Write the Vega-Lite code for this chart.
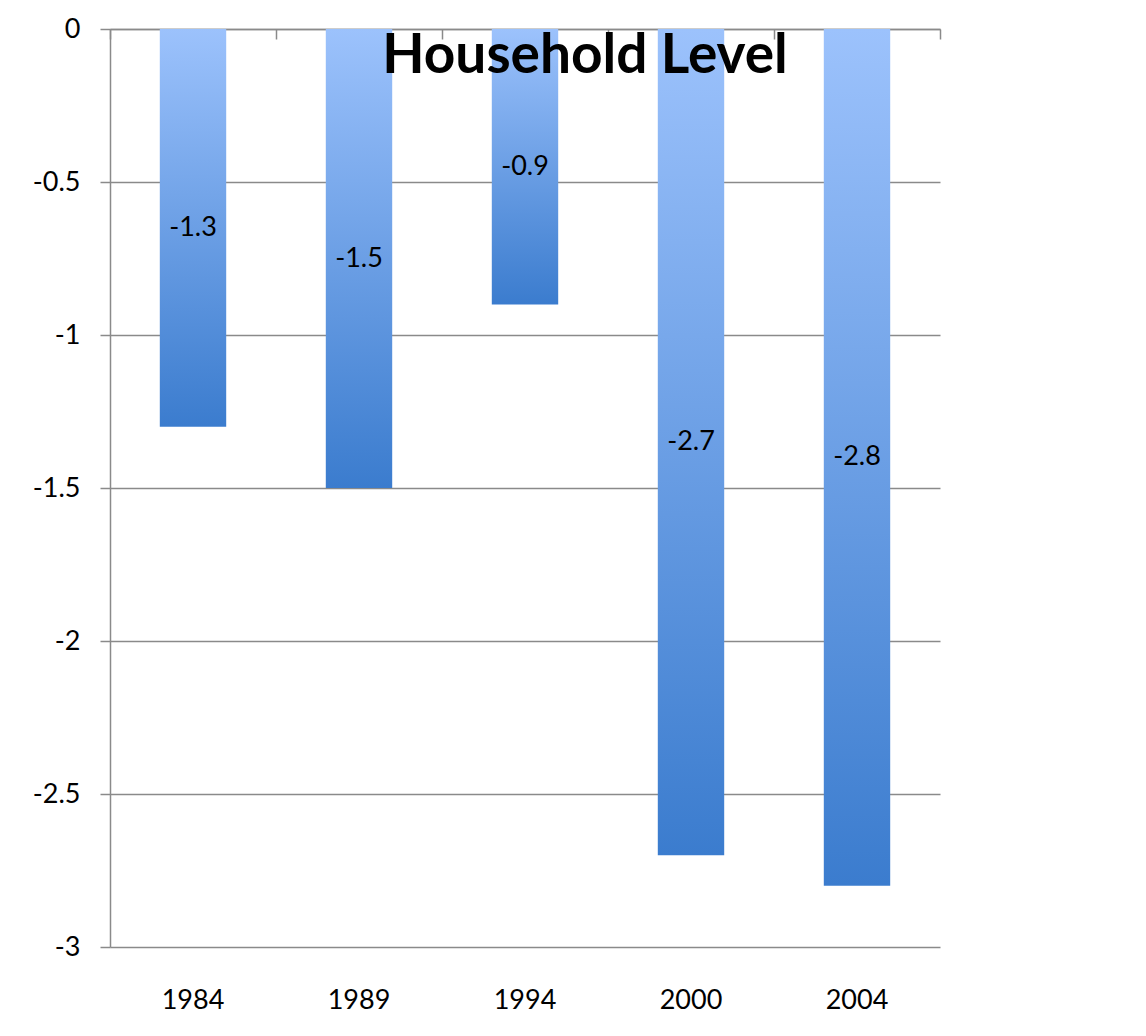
{
  "$schema": "https://vega.github.io/schema/vega-lite/v6.json",
  "width": 830,
  "height": 918,
  "autosize": {"type": "none"},
  "padding": {"left": 110, "top": 29, "right": 206, "bottom": 89},
  "background": "white",
  "title": {
    "text": "Household Level",
    "font": "Lato",
    "fontSize": 55,
    "fontWeight": "bold",
    "color": "black",
    "anchor": "middle",
    "dx": 60,
    "offset": -70
  },
  "data": {
    "values": [
      {"year": "1984", "value": -1.3},
      {"year": "1989", "value": -1.5},
      {"year": "1994", "value": -0.9},
      {"year": "2000", "value": -2.7},
      {"year": "2004", "value": -2.8}
    ]
  },
  "config": {
    "view": {"stroke": null},
    "axis": {
      "labelFont": "Lato",
      "labelFontSize": 27,
      "labelColor": "black",
      "domainColor": "#8a8a8a",
      "tickColor": "#8a8a8a",
      "gridColor": "#8a8a8a",
      "domainWidth": 1.5,
      "tickWidth": 1.5,
      "gridWidth": 1.5
    }
  },
  "layer": [
    {
      "mark": {
        "type": "bar",
        "width": {"band": 0.4},
        "fill": {
          "gradient": "linear",
          "x1": 0, "y1": 0, "x2": 0, "y2": 1,
          "stops": [
            {"offset": 0, "color": "#9cc2fc"},
            {"offset": 1, "color": "#3b7cce"}
          ]
        }
      },
      "encoding": {
        "x": {
          "field": "year",
          "type": "nominal",
          "scale": {"paddingInner": 0, "paddingOuter": 0},
          "axis": {
            "orient": "bottom",
            "title": null,
            "labelAngle": 0,
            "domain": false,
            "ticks": false,
            "labelPadding": 40
          }
        },
        "y": {
          "field": "value",
          "type": "quantitative",
          "scale": {"domain": [-3, 0], "nice": false},
          "axis": {
            "title": null,
            "values": [-3, -2.5, -2, -1.5, -1, -0.5, 0],
            "labelExpr": "'' + datum.value",
            "tickSize": 10,
            "labelPadding": 20,
            "grid": true
          }
        }
      }
    },
    {
      "mark": {
        "type": "text",
        "font": "Lato",
        "fontSize": 27,
        "color": "black",
        "baseline": "middle",
        "align": "center"
      },
      "encoding": {
        "x": {
          "field": "year",
          "type": "nominal",
          "axis": {
            "orient": "top",
            "labels": false,
            "title": null,
            "tickBand": "extent",
            "tickSize": -10,
            "domain": true
          }
        },
        "y": {
          "field": "value",
          "type": "quantitative",
          "scale": {"domain": [-6, 0], "nice": false},
          "axis": null
        },
        "text": {"field": "value", "type": "nominal"}
      }
    }
  ],
  "resolve": {"scale": {"y": "independent"}, "axis": {"x": "independent"}}
}
